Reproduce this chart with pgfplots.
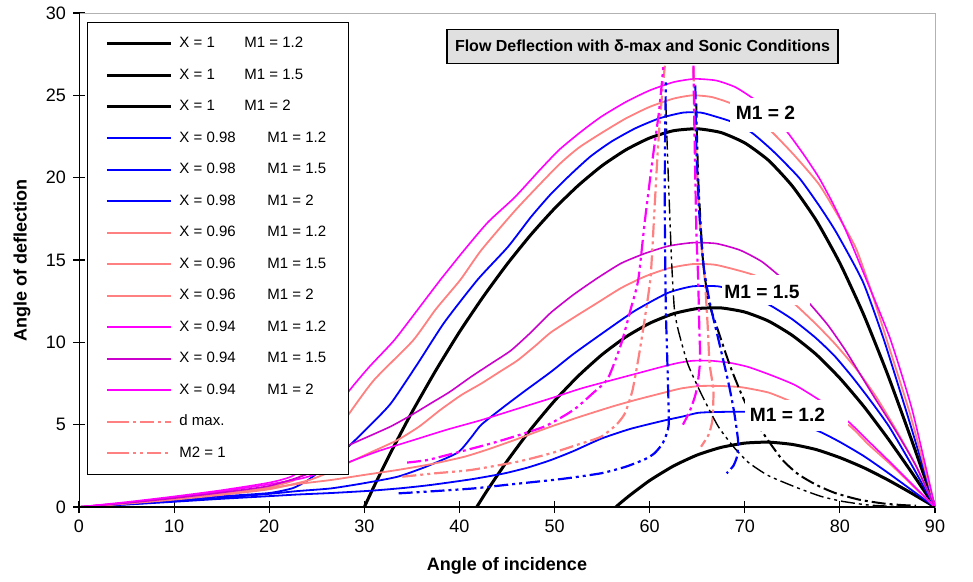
\documentclass[border=0pt]{standalone}
\usepackage{fontspec}
\setmainfont{Liberation Sans}
\usepackage{pgfplots}
\pgfplotsset{compat=1.18}
\definecolor{exblue}{RGB}{0,0,255}
\definecolor{exsalmon}{RGB}{255,128,128}
\definecolor{exmag}{RGB}{255,0,255}
\definecolor{exmagd}{RGB}{204,0,204}
\definecolor{titlegray}{RGB}{224,224,224}
\newcommand{\tickfont}{\fontsize{9bp}{10bp}\selectfont}
\newcommand{\labfont}{\fontsize{9bp}{10bp}\selectfont\bfseries}
\newcommand{\legfont}{\fontsize{7.5bp}{9bp}\selectfont}
\newcommand{\curvefont}{\fontsize{9.6bp}{11bp}\selectfont\bfseries}
\tikzset{
  dmax/.style={dash pattern=on 7bp off 2bp on 1.5bp off 2bp, line width=1.1bp},
  sonic/.style={dash pattern=on 7bp off 2bp on 1.5bp off 2bp on 1.5bp off 2bp, line width=1.1bp},
  soft/.style={smooth, tension=0.35},
}
\newcommand{\xa}[1]{\makebox[32.5bp][l]{#1}}
\newcommand{\xb}[1]{\makebox[44bp][l]{#1}}

\begin{document}
\begin{tikzpicture}
\begin{axis}[
  scale only axis, width=428bp, height=247bp,
  xmin=0, xmax=90, ymin=0, ymax=30,
  xtick={0,10,...,90}, ytick={0,5,...,30},
  tick align=center, tick pos=left, major tick length=6bp,
  axis line style={draw=gray!60, line width=0.5bp},
  tick style={black, line width=0.6bp},
  tick label style={font=\tickfont},
  /pgf/number format/assume math mode=true,
  xlabel={Angle of incidence}, ylabel={Angle of deflection},
  label style={font=\labfont},
  xlabel style={at={(rel axis cs:0.5,-0.1194)}, anchor=center},
  ylabel style={at={(rel axis cs:-0.0666,0.5)}, anchor=center},
  legend style={at={(rel axis cs:0.0093,0.982)}, anchor=north west,
    draw=black, line width=0.5bp, fill=white, font=\legfont,
    inner xsep=9bp, inner ysep=5.2bp, row sep=4.85bp,
    nodes={inner sep=2bp, text height=5.4bp, text depth=1.5bp},
    /tikz/every odd column/.append style={column sep=1.5bp}},
  legend cell align=left,
  legend image code/.code={\path (0bp,0bp) -- (4bp,0bp); \draw[#1] (4bp,0bp) -- (32bp,0bp);},
]
% X = 1 (black)
\addplot[black, line width=1.5bp, soft] coordinates {
 (56.44,0)(57,0.28)(58,0.75)(60,1.61)(62.5,2.49)(65,3.16)(67.5,3.62)(70,3.88)(72.5,3.94)(75,3.8)(77.5,3.49)(80,3.0)(82.5,2.39)(85,1.66)(87.5,0.85)(90,0)};
\addlegendentry{\xa{X = 1}M1 = 1.2}
\addplot[black, line width=1.5bp, soft] coordinates {
 (41.81,0)(42,0.17)(43,1.08)(45,2.78)(47.5,4.72)(50,6.45)(52.5,7.96)(55,9.26)(57.5,10.33)(60,11.16)(62.5,11.74)(65,12.05)(67.5,12.09)(70,11.84)(72.5,11.29)(75,10.42)(77.5,9.27)(80,7.82)(82.5,6.12)(85,4.2)(87.5,2.14)(90,0)};
\addlegendentry{\xa{X = 1}M1 = 1.5}
\addplot[black, line width=1.5bp, soft] coordinates {
 (30,0)(31,1.23)(32,2.41)(33,3.56)(35,5.75)(37.5,8.28)(40,10.63)(42.5,12.77)(45,14.74)(47.5,16.53)(50,18.13)(52.5,19.53)(55,20.73)(57.5,21.69)(60,22.41)(62.5,22.85)(65,22.97)(67.5,22.74)(70,22.11)(72.5,21.05)(75,19.49)(77.5,17.42)(80,14.81)(82.5,11.68)(85,8.08)(87.5,4.13)(90,0)};
\addlegendentry{\xa{X = 1}M1 = 2}
% X = 0.98 (blue)
\addplot[exblue, line width=0.9bp, soft] coordinates {
 (0,0)(5,0.15)(10,0.32)(15,0.5)(20,0.66)(23,0.76)(26.5,0.85)(30.7,0.99)(34,1.15)(37,1.34)(41.2,1.68)(44.7,2.04)(47.2,2.4)(49.6,2.85)(52,3.4)(54.9,4.15)(58,4.75)(61.5,5.25)(63.5,5.5)(65.1,5.72)(67,5.77)(70.2,5.78)(72.5,5.55)(75,5.2)(77.9,4.57)(80,3.95)(82.5,3.1)(85,2.1)(87.5,1.05)(90,0)};
\addlegendentry{\xb{X = 0.98}M1 = 1.2}
\addplot[exblue, line width=0.9bp, soft] coordinates {
 (0,0)(5,0.17)(10,0.36)(15,0.56)(20,0.8)(23,0.97)(26.5,1.13)(30,1.45)(33.5,1.84)(36.5,2.45)(39.8,3.3)(41.2,4.2)(42.3,5.0)(44.7,6.1)(47,7.1)(49.6,8.2)(52,9.3)(54.9,10.5)(58.4,11.9)(61.9,13.0)(64.5,13.4)(67.2,13.4)(69.5,13.05)(72.5,12.3)(75,11.4)(77.4,10.3)(79.4,9.2)(81.3,7.9)(83.3,6.4)(85.2,4.86)(87.6,2.5)(90,0)};
\addlegendentry{\xb{X = 0.98}M1 = 1.5}
\addplot[exblue, line width=0.9bp, soft] coordinates {
 (0,0)(5,0.2)(10,0.42)(15,0.65)(20,0.85)(22.5,1.15)(24.1,1.64)(26,2.5)(28.2,3.6)(30.5,4.9)(32.8,6.3)(35.6,8.7)(38.4,11.2)(41.9,13.8)(45.1,15.8)(47.5,17.6)(49.6,19.0)(51.7,20.2)(53.8,21.3)(56,22.2)(58.5,23.0)(61,23.6)(63.5,23.95)(65.4,23.95)(67,23.7)(68.6,23.4)(70.7,22.75)(73,21.6)(75.7,20.0)(77.7,18.4)(79.6,16.7)(82.4,13.7)(84.6,10.2)(87.2,5.4)(90,0)};
\addlegendentry{\xb{X = 0.98}M1 = 2}
% X = 0.96 (salmon)
\addplot[exsalmon, line width=0.9bp, soft] coordinates {
 (0,0)(5,0.22)(10,0.48)(15,0.8)(20,1.15)(23,1.4)(26.5,1.64)(30,1.95)(33.5,2.25)(37,2.6)(40.5,3.05)(43,3.5)(45.8,4.07)(47.8,4.5)(49.6,4.88)(52.5,5.45)(56,6.09)(58.5,6.5)(61.2,6.9)(63.3,7.2)(65.3,7.35)(67.5,7.35)(69.7,7.27)(72.5,6.95)(74.9,6.4)(77.8,5.7)(80.9,4.98)(83,3.8)(85.5,2.5)(88,1.1)(90,0)};
\addlegendentry{\xb{X = 0.96}M1 = 1.2}
\addplot[exsalmon, line width=0.9bp, soft] coordinates {
 (0,0)(5,0.21)(10,0.45)(15,0.74)(20,1.08)(24,1.6)(26.5,2.15)(28.2,2.65)(30.8,3.35)(33.5,4.07)(35.8,4.9)(38.0,5.9)(40.2,6.8)(42.3,7.5)(44.2,8.2)(46.1,8.9)(48,9.8)(49.6,10.6)(52,11.5)(54.5,12.4)(57,13.3)(59.5,14.0)(62,14.5)(64.5,14.75)(67,14.7)(70.9,14.1)(73,13.4)(75.3,12.3)(77.5,11.1)(79.5,9.9)(81.7,8.4)(83.8,6.7)(86,4.6)(88,2.5)(90,0)};
\addlegendentry{\xb{X = 0.96}M1 = 1.5}
\addplot[exsalmon, line width=0.9bp, soft] coordinates {
 (0,0)(5,0.24)(10,0.52)(15,0.84)(20,1.22)(22.5,1.6)(24.5,2.4)(26.5,3.9)(28.2,5.5)(31,7.7)(35.1,10.1)(37.5,12.0)(40.1,13.8)(42.3,15.6)(46,18.1)(50.3,20.7)(52.5,21.8)(54.9,22.7)(57.5,23.6)(60,24.3)(62.5,24.8)(64.5,25.0)(66.5,24.9)(68.6,24.5)(70.7,23.8)(72.9,22.75)(75.3,21.3)(77.8,19.6)(79.8,17.7)(81.7,15.7)(83.3,13.1)(84.9,10.2)(87.4,5.6)(90,0)};
\addlegendentry{\xb{X = 0.96}M1 = 2}
% X = 0.94 (magenta)
\addplot[exmag, line width=0.8bp, soft] coordinates {
 (0,0)(5,0.26)(10,0.58)(15,0.95)(20,1.38)(23.5,1.75)(26,2.2)(28.2,2.69)(31.5,3.4)(35.2,4.07)(38.7,4.7)(42.3,5.28)(46,5.95)(49.6,6.6)(52.8,7.2)(56,7.7)(58.6,8.1)(61.2,8.5)(63,8.75)(64.5,8.88)(66.5,8.88)(68.5,8.75)(70.4,8.5)(72.8,8.0)(75.3,7.4)(78.1,6.4)(80.9,5.18)(83,4.0)(85.5,2.6)(88,1.15)(90,0)};
\addlegendentry{\xb{X = 0.94}M1 = 1.2}
\addplot[exmagd, line width=0.8bp, soft] coordinates {
 (0,0)(5,0.25)(10,0.54)(15,0.88)(20,1.28)(24,2.0)(26,2.9)(28.2,3.7)(30.5,4.3)(32.8,4.9)(35,5.6)(37,6.3)(39,7.0)(41.2,7.9)(43.3,8.7)(45.4,9.5)(47.5,10.6)(49.6,11.8)(52,12.9)(54.5,13.9)(57,14.8)(59.5,15.4)(62,15.85)(64.5,16.05)(67,16.0)(69.5,15.6)(71.8,14.9)(73.9,13.9)(75.5,13.1)(76.9,12.3)(78.8,11.0)(80.6,9.5)(82.2,8.0)(83.8,6.5)(86,4.5)(88,2.5)(90,0)};
\addlegendentry{\xb{X = 0.94}M1 = 1.5}
\addplot[exmag, line width=0.8bp, soft] coordinates {
 (0,0)(5,0.3)(10,0.64)(15,1.02)(20,1.48)(22.5,1.9)(24.5,3.0)(26.5,5.2)(28.2,6.9)(30.5,8.5)(33.1,10.1)(35.5,11.9)(38.0,13.8)(40.5,15.6)(43,17.3)(45.8,18.8)(48.5,20.5)(50.5,21.7)(52.8,22.8)(54.9,23.7)(57.5,24.6)(60,25.3)(62.5,25.8)(64.7,26.0)(67,25.9)(69,25.5)(70.9,24.8)(72.8,23.9)(74.5,22.75)(76.2,21.4)(77.8,20.0)(79.3,18.4)(80.7,16.7)(83,13.5)(85.3,10.2)(87.6,5.9)(90,0)};
\addlegendentry{\xb{X = 0.94}M1 = 2}
% delta-max and sonic loci
\addplot[exsalmon, dmax, soft] coordinates {
 (64.6,26.7)(64.8,23)(65.1,19)(65.5,15.5)(65.8,13.8)(66.1,11)(66.3,8.7)(66.7,7.1)(66.6,5.3)(66.2,4.4)(65.4,3.66)};
\addlegendentry{d max.}
\addplot[exsalmon, sonic, soft] coordinates {
 (34.0,1.84)(37.5,2.05)(41.2,2.25)(46.1,2.75)(49.6,3.26)(52.5,3.8)(54.9,4.27)(56.5,5.0)(57.4,5.69)(58.2,7.1)(58.9,9.3)(59.5,11.5)(60.1,14)(60.5,18)(60.9,22.1)(61.3,25)(61.6,26.8)};
\addlegendentry{M2 = 1}
\addplot[black, dmax, line width=1bp, soft, forget plot] coordinates {
 (64.9,24.5)(65.1,20)(65.6,15)(66.2,12.5)(67.2,10.7)(68.5,8.5)(70.0,6.4)(71.8,4.6)(73.9,2.9)(75.6,2.0)(77.5,1.35)(79.5,0.85)(82,0.45)(84.5,0.22)(86.5,0.12)(88,0.08)};
\addplot[black, sonic, line width=0.7bp, soft, forget plot] coordinates {
 (61.7,24.5)(61.9,21)(62.3,15)(62.6,12)(63.0,10.75)(64.0,8.7)(65.4,6.9)(67.2,4.9)(68.9,3.6)(70.4,2.7)(72.5,1.9)(75.6,1.15)(78,0.65)(80.2,0.35)(83,0.12)(86,0.03)};
\addplot[exblue, dmax, soft, forget plot] coordinates {
 (64.8,25.6)(64.9,22)(65.2,18)(65.7,14.5)(66.4,12.2)(67.3,10.0)(68.3,7.5)(68.9,5.7)(69.3,4.0)(69.2,3.1)(68.8,2.5)(68.1,2.05)};
\addplot[exblue, sonic, soft, forget plot] coordinates {
 (33.6,0.83)(37,0.95)(41.5,1.13)(45,1.35)(50.7,1.7)(54.9,2.05)(57.5,2.45)(59.5,2.9)(60.5,3.26)(61.4,3.9)(62.0,5.0)(61.9,8)(61.7,12)(61.6,17)(61.6,21)(61.7,25.8)};
\addplot[exmag, dmax, soft, forget plot] coordinates {
 (64.6,26.8)(64.7,23.1)(64.9,17.0)(65.1,13.8)(65.2,11.35)(65.3,8.9)(65.0,7.3)(64.7,6.6)(64.2,5.8)(63.5,5.0)};
\addplot[exmag, sonic, soft, forget plot] coordinates {
 (34.5,2.7)(36.6,2.85)(39.4,3.26)(44.0,3.97)(48.9,4.88)(52,5.9)(54,6.9)(55.6,7.8)(57.0,9.9)(58.0,12)(58.8,13.8)(59.5,17.4)(60.3,21.1)(61.0,24.1)(61.5,27.1)};
% axis lines, title and curve labels
\draw[black, line width=1bp] (rel axis cs:0,1) -- (rel axis cs:0,0) -- (rel axis cs:1,0);
\node[draw=black, fill=titlegray, line width=0.6bp, minimum width=195.5bp, minimum height=17bp, inner sep=0pt,
  font=\fontsize{8bp}{9bp}\selectfont\bfseries] at (axis cs:59.25,27.99) {Flow Deflection with δ-max and Sonic Conditions};
\node[fill=white, minimum width=35bp, minimum height=17bp, inner sep=0pt] at (axis cs:72.13,23.81) {};
\node[font=\curvefont, inner sep=0pt] at (axis cs:72.18,23.96) {M1 = 2};
\node[fill=white, minimum width=44bp, minimum height=15bp, inner sep=0pt] at (axis cs:72.23,13.15) {};
\node[font=\curvefont, inner sep=0pt] at (axis cs:71.81,13.06) {M1 = 1.5};
\node[fill=white, minimum width=51.5bp, minimum height=15.5bp, inner sep=0pt] at (axis cs:75.44,5.56) {};
\node[font=\curvefont, inner sep=0pt] at (axis cs:74.49,5.62) {M1 = 1.2};
\end{axis}
\path ([xshift=-39.5bp,yshift=-36bp]current axis.south west) rectangle ([xshift=19bp,yshift=6.5bp]current axis.north east);
\end{tikzpicture}
\end{document}
